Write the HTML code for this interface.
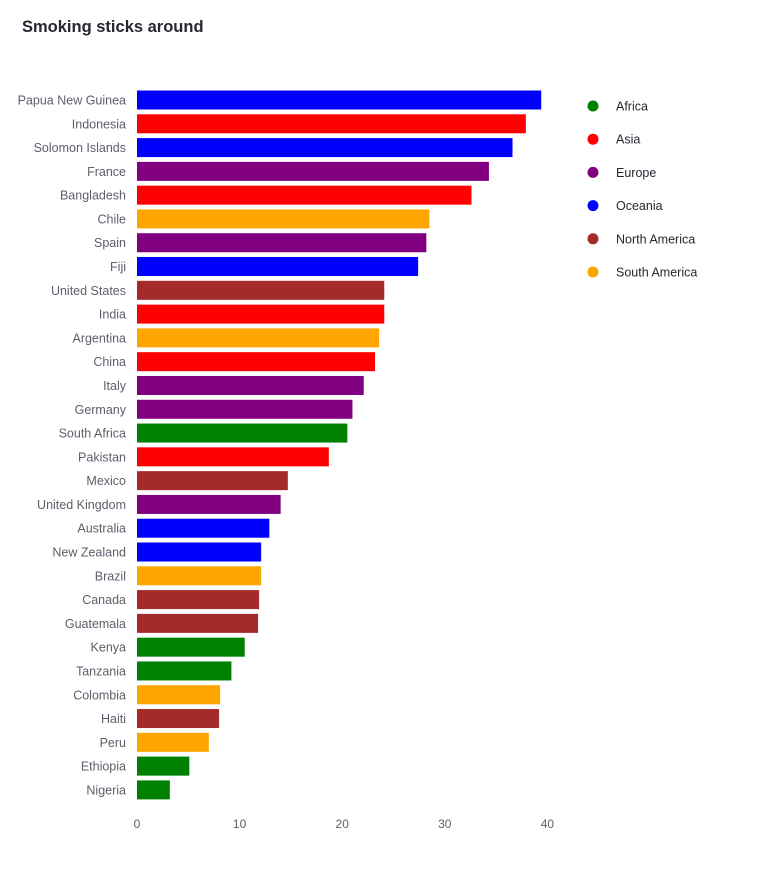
<!DOCTYPE html>
<html><head><meta charset="utf-8"><style>
body{margin:0;background:#fff;font-family:"Liberation Sans",sans-serif;}
svg text{font-family:"Liberation Sans",sans-serif;}
</style></head><body>
<svg id="c" width="765" height="864">
<text x="22" y="32" font-size="16.5" font-weight="bold" fill="#262730">Smoking sticks around</text>
</svg>
<script>
const countries=["Papua New Guinea","Indonesia","Solomon Islands","France","Bangladesh","Chile","Spain","Fiji","United States","India","Argentina","China","Italy","Germany","South Africa","Pakistan","Mexico","United Kingdom","Australia","New Zealand","Brazil","Canada","Guatemala","Kenya","Tanzania","Colombia","Haiti","Peru","Ethiopia","Nigeria"];
const values=[39.4,37.9,36.6,34.3,32.6,28.5,28.2,27.4,24.1,24.1,23.6,23.2,22.1,21.0,20.5,18.7,14.7,14.0,12.9,12.1,12.1,11.9,11.8,10.5,9.2,8.1,8.0,7.0,5.1,3.2];
const regions=["Oceania","Asia","Oceania","Europe","Asia","South America","Europe","Oceania","North America","Asia","South America","Asia","Europe","Europe","Africa","Asia","North America","Europe","Oceania","Oceania","South America","North America","North America","Africa","Africa","South America","North America","South America","Africa","Africa"];
const legendRegions=["Africa","Asia","Europe","Oceania","North America","South America"];
const legendColors=["green","red","purple","blue","brown","orange"];
const ticks=[0,10,20,30,40];
const NS="http://www.w3.org/2000/svg";
const svg=document.getElementById('c');
const x=v=>137+v*10.26;
const y=i=>100+i*23.79;
function mk(t,a){const e=document.createElementNS(NS,t);for(const k in a)e.setAttribute(k,a[k]);svg.appendChild(e);return e;}
const col=r=>legendColors[legendRegions.indexOf(r)];
countries.forEach((c,i)=>{
  const r=mk('rect',{x:x(0),y:y(i)-9.5,width:x(values[i])-x(0),height:19,fill:col(regions[i])});
  
  
  const t=mk('text',{x:126,y:y(i)+4.5,'font-size':12.5,fill:'#5c5f6b','text-anchor':'end'});
  t.textContent=c;
  
  
});
ticks.forEach(v=>{
  const t=mk('text',{x:x(v),y:828,'font-size':12,fill:'#5c5f6b','text-anchor':'middle'});
  t.textContent=v;
  
  
});
legendRegions.forEach((r,i)=>{
  const cy=106+i*33.2;
  const d=mk('circle',{cx:593,cy:cy,r:5.5,fill:legendColors[i]});
  
  
  const t=mk('text',{x:616,y:cy+4.5,'font-size':12.5,fill:'#262730'});
  t.textContent=r;
  
  
});
</script>
</body></html>
